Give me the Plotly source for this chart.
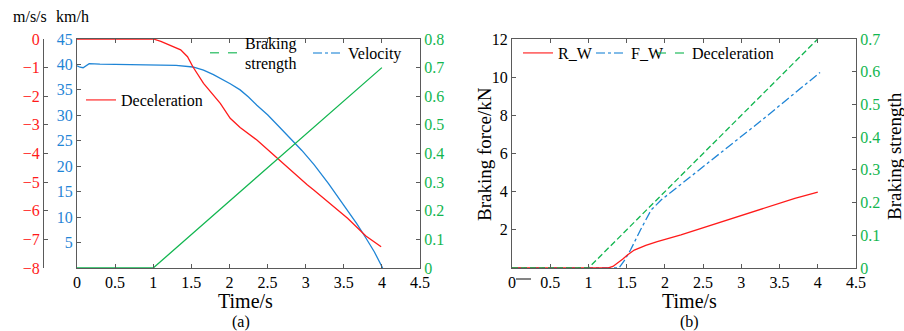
import plotly.graph_objects as go

W, H = 904, 331

# ---------------- data: chart (a) ----------------
t_vel = [0, 0.04, 0.08, 0.12, 0.16, 0.3, 0.7, 1.0, 1.3, 1.52, 1.66, 1.79, 1.88, 2.01, 2.14,
         2.25, 2.36, 2.5, 2.63, 2.78, 2.95, 3.11, 3.3, 3.45, 3.55, 3.67, 3.79, 3.9, 4.01]
velocity = [39.75, 39.45, 39.35, 39.8, 40.15, 40.05, 39.95, 39.9, 39.8, 39.5, 38.9, 38.0, 37.3,
            36.2, 35.0, 33.6, 32.0, 30.1, 28.1, 25.8, 23.1, 20.3, 16.6, 13.4, 11.3, 8.7, 5.9,
            3.2, 0.0]

t_dec = [0, 1.0, 1.1, 1.22, 1.36, 1.45, 1.52, 1.66, 1.78, 1.88, 2.01, 2.14, 2.36, 2.63, 2.78,
         3.02, 3.11, 3.55, 3.79, 3.99]
deceleration = [0, 0, -0.08, -0.21, -0.38, -0.62, -0.97, -1.55, -1.95, -2.25, -2.77, -3.09,
                -3.53, -4.17, -4.54, -5.09, -5.28, -6.26, -6.88, -7.26]

t_str = [0, 1.0, 4.0]
strength = [0, 0, 0.7]

# ---------------- data: chart (b) ----------------
t_rw = [0, 1.25, 1.32, 1.38, 1.45, 1.51, 1.60, 1.75, 1.90, 2.21, 2.34, 2.74, 3.2, 3.70, 4.0]
r_w = [0, 0, 0.08, 0.25, 0.47, 0.68, 0.94, 1.18, 1.38, 1.73, 1.90, 2.43, 3.0, 3.65, 3.97]

t_fw = [0, 1.40, 1.48, 1.55, 1.68, 1.82, 1.95, 2.17, 2.47, 3.26, 4.03]
f_w = [0, 0, 0.45, 0.94, 1.99, 3.04, 3.56, 4.26, 5.17, 7.72, 10.25]

t_bd = [0, 1.0, 4.0]
b_dec = [0, 0, 0.7]

x_ticks = [0, 0.5, 1, 1.5, 2, 2.5, 3, 3.5, 4, 4.5]
vel_ticks = [5, 10, 15, 20, 25, 30, 35, 40, 45]
dec_ticks = [0, -1, -2, -3, -4, -5, -6, -7, -8]
str_ticks_a = [0, 0.1, 0.2, 0.3, 0.4, 0.5, 0.6, 0.7, 0.8]
force_ticks = [2, 4, 6, 8, 10, 12]
str_ticks_b = [0, 0.1, 0.2, 0.3, 0.4, 0.5, 0.6, 0.7]

RED = "#FF1A1A"
BLUE = "#1F85D6"
GREEN = "#12B650"
AX = "#5a5a5a"
FONT = "Liberation Serif, Times New Roman, serif"
FS = 16


def px(x):
    return x / W


def py(y):
    return 1 - y / H


fig = go.Figure()
LW = 1.3

# chart (a) lines
fig.add_trace(go.Scatter(x=t_vel, y=velocity, mode="lines", line=dict(color=BLUE, width=LW),
                         xaxis="x", yaxis="y", showlegend=False))
fig.add_trace(go.Scatter(x=t_dec, y=deceleration, mode="lines", line=dict(color=RED, width=LW),
                         xaxis="x", yaxis="y2", showlegend=False))
fig.add_trace(go.Scatter(x=t_str, y=strength, mode="lines", line=dict(color=GREEN, width=LW),
                         xaxis="x", yaxis="y3", showlegend=False))

# chart (b) lines
fig.add_trace(go.Scatter(x=t_bd, y=b_dec, mode="lines",
                         line=dict(color=GREEN, width=LW, dash="6px,3px"),
                         xaxis="x2", yaxis="y5", showlegend=False))
fig.add_trace(go.Scatter(x=t_fw, y=f_w, mode="lines",
                         line=dict(color=BLUE, width=LW, dash="dashdot"),
                         xaxis="x2", yaxis="y4", showlegend=False))
fig.add_trace(go.Scatter(x=t_rw, y=r_w, mode="lines", line=dict(color=RED, width=LW),
                         xaxis="x2", yaxis="y4", showlegend=False))

# legend entries (samples)
legend_items = [
    ("Deceleration", RED, "solid", "legend"),
    ("Braking<br>strength", GREEN, "dash", "legend2"),
    ("Velocity", BLUE, "dashdot", "legend3"),
    ("R_W", RED, "solid", "legend4"),
    ("F_W", BLUE, "dashdot", "legend5"),
    ("Deceleration", GREEN, "dash", "legend6"),
]
for name, col, dash, lg in legend_items:
    left = lg in ("legend", "legend2", "legend3")
    fig.add_trace(go.Scatter(x=[None], y=[None], mode="lines", name=name,
                             line=dict(color=col, width=1.5, dash=dash),
                             opacity=0.75, legend=lg, showlegend=True,
                             xaxis="x" if left else "x2",
                             yaxis="y" if left else "y4"))

ydom = [py(268), py(39)]
tickfont = dict(family=FONT, size=FS, color="black")


def xa(domain, anchor):
    return dict(domain=domain, anchor=anchor, range=[0, 4.5], tickvals=x_ticks,
                ticks="inside", ticklen=4, tickcolor=AX, showline=True, linecolor=AX,
                linewidth=1, mirror="ticks", showgrid=False, zeroline=False,
                tickfont=tickfont, fixedrange=True, automargin=False)


def ya(**kw):
    d = dict(ticks="inside", ticklen=4, tickcolor=AX, showline=True, linecolor=AX,
             linewidth=1, showgrid=False, zeroline=False, fixedrange=True, automargin=False)
    d.update(kw)
    return d


def legend_box(xp, yp):
    return dict(x=px(xp), y=py(yp), xanchor="left", yanchor="middle",
                bgcolor="rgba(0,0,0,0)", borderwidth=0,
                font=dict(family=FONT, size=FS, color="black"),
                itemwidth=30, tracegroupgap=0)


fig.update_layout(
    width=W, height=H, margin=dict(l=0, r=0, t=0, b=0),
    paper_bgcolor="white", plot_bgcolor="white",
    font=dict(family=FONT, size=FS, color="black"),
    xaxis=xa([px(77), px(420)], "y"),
    yaxis=ya(domain=ydom, anchor="x", range=[0, 45], tickvals=vel_ticks,
             tickfont=dict(family=FONT, size=FS, color=BLUE)),
    yaxis2=ya(overlaying="y", anchor="free", position=px(43), side="left",
              range=[-8, 0], tickvals=dec_ticks,
              tickfont=dict(family=FONT, size=FS, color=RED)),
    yaxis3=ya(overlaying="y", anchor="x", side="right", range=[0, 0.8], tickvals=str_ticks_a,
              tickfont=dict(family=FONT, size=FS, color=GREEN)),
    xaxis2=xa([px(512), px(856)], "y4"),
    yaxis4=ya(domain=ydom, anchor="x2", range=[0, 12], tickvals=force_ticks,
              tickfont=tickfont),
    yaxis5=ya(overlaying="y4", anchor="x2", side="right", range=[0, 0.7], tickvals=str_ticks_b,
              tickfont=dict(family=FONT, size=FS, color=GREEN)),
    legend=legend_box(81, 100),
    legend2=legend_box(205, 53),
    legend3=legend_box(308, 53),
    legend4=legend_box(518, 53),
    legend5=legend_box(591, 53),
    legend6=legend_box(652, 53),
)

ann = [
    dict(text="m/s/s", x=px(30), y=py(16), size=16, angle=0),
    dict(text="km/h", x=px(72), y=py(16), size=16, angle=0),
    dict(text="Time/s", x=px(245), y=py(301), size=20, angle=0),
    dict(text="(a)", x=px(241), y=py(322), size=16, angle=0),
    dict(text="Time/s", x=px(689), y=py(301), size=20, angle=0),
    dict(text="(b)", x=px(689), y=py(322), size=16, angle=0),
    dict(text="Braking force/kN", x=px(484), y=py(154), size=19, angle=-90),
    dict(text="Braking strength", x=px(894), y=py(156), size=19, angle=-90),
]
for a in ann:
    fig.add_annotation(text=a["text"], x=a["x"], y=a["y"], xref="paper", yref="paper",
                       xanchor="center", yanchor="middle", showarrow=False,
                       textangle=a["angle"], font=dict(family=FONT, size=a["size"], color="black"))

# small stray dash next to the "0" tick label in chart (b)
fig.add_shape(type="line", xref="paper", yref="paper", x0=px(516), x1=px(531),
              y0=py(279), y1=py(279), line=dict(color="#333333", width=1.2))

fig.write_html("out.html", config={"displayModeBar": False},
               post_script="document.body.style.margin='0';document.body.style.padding='0';")
